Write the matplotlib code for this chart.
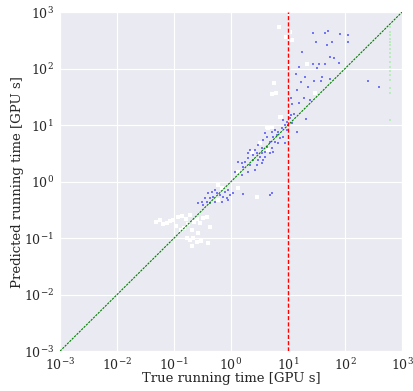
import matplotlib
matplotlib.use("Agg")
import matplotlib.pyplot as plt
import numpy as np
import seaborn as sns

sns.set_style("darkgrid")
plt.rcParams["font.family"] = ["DejaVu Serif"]
plt.rcParams["mathtext.fontset"] = "dejavuserif"

# values in log10 units (true, predicted)
white_lx = [-1.316, -1.246, -1.193, -1.123, -1.07, -1.018, -0.93, -0.86, -0.789, -0.719,
            -0.649, -0.596, -0.544, -0.491, -0.421, -0.368, -0.754, -0.825, -0.684, -0.579,
            -0.772, -0.667, -0.596, -0.719, -0.526, -0.684, -0.404, -0.965, -0.877,
            -0.223, -0.164, -0.223, 0.128, 0.45, 0.128, 0.362, 0.655, 0.508, 0.859, 0.655,
            0.847, 0.965, 1.065, 1.035, 1.328, 0.76, 0.711, 0.789, 1.474, 0.877, 0.626, 0.714]
white_ly = [-0.717, -0.681, -0.752, -0.735, -0.699, -0.681, -0.628, -0.611, -0.664, -0.593,
            -0.717, -0.664, -0.735, -0.646, -0.628, -0.805, -0.752, -0.823, -0.858, -0.912,
            -1.0, -1.0, -1.071, -1.035, -1.053, -1.142, -1.088, -0.788, -0.858,
            -0.061, -0.12, -0.327, -0.12, -0.268, 0.174, 0.528, 0.558, 0.676, 1.148, 0.941,
            2.74, 2.552, 2.504, 2.641, 2.08, 1.752, 1.549, 1.572, 1.572, 1.147, 0.959, 0.97]

blue_lx = [0.918, 0.976, 1.035, 0.947, 1.006, 1.064, 0.9, 0.976, 0.83, 0.772, 0.713, 0.596,
           0.625, 0.742, 0.801, 0.859, 0.918, 0.684, 0.772, 0.83, 0.947, 0.567, 0.625, 0.713,
           0.538, 0.596, 0.479, 0.421, 0.333, 0.304, 0.392, 0.45, 0.508, 0.567, 0.479, 0.392,
           0.304, 0.245, 0.187, 0.128, 0.216, 0.333, 0.45, 0.538, 0.421, 0.304, 0.07, 0.187,
           0.596, 0.684, 0.742, 0.538,
           -0.281, -0.339, -0.398, -0.252, -0.193, -0.106, -0.047, -0.135, -0.076, -0.31,
           -0.369, -0.456, -0.427, -0.515, -0.574, -0.486, -0.369, -0.281, -0.164, -0.018,
           0.041, -0.047, 0.684, 0.713, 0.216,
           1.433, 1.649, 1.707, 1.912, 2.047, 2.058, 1.491, 1.679, 1.777, 1.24, 1.737, 1.812,
           1.9, 1.433, 1.549, 1.649, 1.514, 1.193, 1.14, 1.591, 1.298, 1.228, 1.356, 1.456,
           1.574, 1.737, 2.409, 2.596, 1.152, 1.281, 1.053, 1.386, 1.198, 1.111, 1.316, 1.053,
           1.065, 1.15]
blue_ly = [1.089, 1.059, 1.118, 1.0, 1.0, 1.03, 0.941, 0.912, 0.882, 0.912, 0.882, 0.853,
           0.794, 0.794, 0.824, 0.765, 0.794, 0.706, 0.706, 0.676, 0.676, 0.735, 0.617, 0.587,
           0.587, 0.528, 0.646, 0.558, 0.558, 0.499, 0.469, 0.499, 0.44, 0.381, 0.381, 0.381,
           0.41, 0.352, 0.322, 0.352, 0.263, 0.292, 0.292, 0.322, 0.204, 0.174, 0.174, 0.115,
           0.44, 0.499, 0.528, 0.499,
           -0.15, -0.18, -0.209, -0.209, -0.238, -0.18, -0.15, -0.268, -0.297, -0.268,
           -0.297, -0.297, -0.356, -0.356, -0.386, -0.415, -0.386, -0.356, -0.356, -0.238,
           -0.209, -0.327, -0.238, -0.209, -0.22,
           2.623, 2.623, 2.664, 2.605, 2.593, 2.464, 2.464, 2.416, 2.464, 2.297, 2.198, 2.18,
           2.092, 2.074, 2.074, 2.074, 2.004, 2.021, 1.897, 1.855, 1.844, 1.766, 1.667, 1.779,
           1.779, 1.814, 1.779, 1.667, 1.619, 1.483, 1.473, 1.442, 1.395, 1.189, 1.101, 1.177,
           1.38, 0.88]

green_lx = [2.79] * 17
green_ly = [2.74, 2.65, 2.59, 2.53, 2.47, 2.42, 2.34, 2.27, 2.2, 2.12, 2.03, 1.96, 1.88,
            1.8, 1.65, 1.56, 1.09]

threshold = 10
lims = [1e-3, 1e3]

fig = plt.figure(figsize=(4.14, 3.91), dpi=100)
ax = fig.add_axes([0.145, 0.102, 0.826, 0.867])
ax.set_xscale("log"); ax.set_yscale("log")

ax.scatter(10 ** np.array(white_lx), 10 ** np.array(white_ly), s=5, marker="s",
           color="white", lw=0, zorder=3)
ax.scatter(10 ** np.array(blue_lx), 10 ** np.array(blue_ly), s=2.5, marker="s",
           color="blue", alpha=0.5, lw=0, zorder=4)
ax.scatter(10 ** np.array(green_lx), 10 ** np.array(green_ly), s=1.5, marker="s",
           color="#b5ecb5", alpha=0.9, lw=0, zorder=4)

ax.plot(lims, lims, color="green", ls="--", lw=0.8, dashes=(2, 1), zorder=5)
ax.axvline(threshold, color="red", ls="--", lw=1, dashes=(3, 1.5), zorder=5)

ax.set_xlim(lims); ax.set_ylim(lims)
ax.minorticks_off()
ax.tick_params(labelsize=9, pad=1)
ax.set_xlabel("True running time [GPU s]", fontsize=9.5, labelpad=-1)
ax.set_ylabel("Predicted running time [GPU s]", fontsize=9.5, labelpad=0)

fig.savefig("out.png", dpi=100)
